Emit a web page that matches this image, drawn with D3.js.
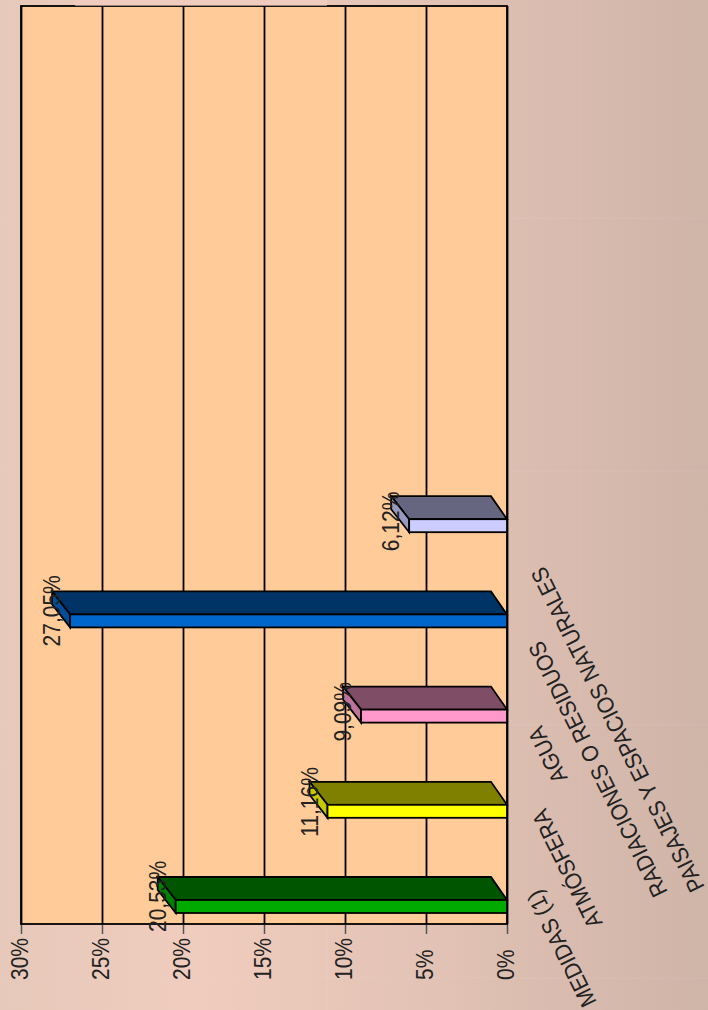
<!DOCTYPE html>
<html><head><meta charset="utf-8">
<script src="https://cdn.jsdelivr.net/npm/d3@7/dist/d3.min.js"></script>
<style>html,body{margin:0;padding:0;overflow:hidden;background:#e0c4b6}svg{display:block}text{font-family:"Liberation Sans",sans-serif;fill:#222}</style>
</head><body><svg id="c" width="708" height="1010"></svg>
<script>
const categories=["MEDIDAS (1)","ATMÓSFERA","AGUA","RADIACIONES O RESIDUOS","PAISAJES Y ESPACIOS NATURALES"];
const values=[20.53,11.16,9.09,27.05,6.12];
const valueLabels=["20,53%","11,16%","9,09%","27,05%","6,12%"];
const frontColors=["#00aa00","#ffff00","#ff99cc","#0066cc","#ccccff"];
const topColors=["#005500","#808000","#804d66","#003366","#666680"];
const sideColors=["#008000","#c8c800","#c07399","#004d99","#9999c0"];
const tickValues=[0,5,10,15,20,25,30];
const labelStart=[[597,1002],[603,923],[568,778],[668,892],[705,887]];

const svg=d3.select("#c");
const defs=svg.append("defs");
const g=defs.append("linearGradient").attr("id","bg");
[[0,"#e6c9ba"],[.28,"#f0ccbe"],[.6,"#e2c3b5"],[1,"#cfb4a8"]].forEach(s=>g.append("stop").attr("offset",s[0]).attr("stop-color",s[1]));
svg.append("rect").attr("width",708).attr("height",1010).attr("fill","url(#bg)");
[75,327,580].forEach(v=>svg.append("line").attr("x1",v).attr("x2",v).attr("y1",0).attr("y2",1010).attr("stroke","#fff").attr("stroke-opacity",.07));
[218,471,725,978].forEach(v=>svg.append("line").attr("y1",v).attr("y2",v).attr("x1",0).attr("x2",708).attr("stroke","#fff").attr("stroke-opacity",.07));

const pL=21,pR=507,pT=6,pB=924;
const xS=d3.scaleLinear().domain([0,30]).range([pR+.5,pL+.5]);
const yS=d3.scaleBand().domain(categories).range([pB,pB-95.2*5]);
const depthXBase=16,depthXEnd=18,depthY=23,barH=13,barOff=11,barNudge=.8;

svg.append("rect").attr("x",pL).attr("y",pT).attr("width",pR-pL).attr("height",pB-pT).attr("fill","#ffcc99");

const axis=d3.axisBottom(xS).tickValues(tickValues).tickSize(-(pB-pT)).tickFormat(d=>"");
const ax=svg.append("g").attr("transform",`translate(0,${pB})`).call(axis);
ax.select(".domain").remove();
ax.selectAll(".tick").attr("transform",d=>`translate(${xS(d)},0)`);
ax.selectAll("line").attr("stroke","#000").attr("stroke-width",1.8);
svg.selectAll("line.stub").data(tickValues).join("line").attr("class","stub")
 .attr("x1",d=>xS(d)).attr("x2",d=>xS(d)).attr("y1",pB).attr("y2",pB+10).attr("stroke","#555").attr("stroke-width",1.5);
svg.append("rect").attr("x",pL).attr("y",pT).attr("width",pR-pL).attr("height",pB-pT).attr("fill","none").attr("stroke","#000").attr("stroke-width",1.8);
svg.append("rect").attr("x",75).attr("y",0).attr("width",252).attr("height",5.6).attr("fill","#f0ccbe");

svg.selectAll("text.tick").data(tickValues).join("text").attr("class","tick")
 .attr("transform",d=>`translate(${xS(d)+6.5},980) rotate(-90) scale(1,1.12)`).attr("font-size",21).text(d=>d+"%");

const bars=svg.selectAll("g.bar").data(categories).join("g").attr("class","bar");
bars.each(function(c,i){
 const s=d3.select(this),xv=xS(values[i])+barNudge,b=yS(c)+yS.bandwidth()-barOff,t=b-barH;
 s.append("path").attr("d",d3.line()([[pR,t],[pR-depthXBase,t-depthY],[xv-depthXEnd,t-depthY],[xv,t]])+"Z").attr("fill",topColors[i]).attr("stroke","#000").attr("stroke-width",1.8);
 s.append("path").attr("d",d3.line()([[xv,t],[xv-depthXEnd,t-depthY],[xv-depthXEnd,b-depthY],[xv,b]])+"Z").attr("fill",sideColors[i]).attr("stroke","#000").attr("stroke-width",1.8);
 s.append("rect").attr("x",xv).attr("y",t).attr("width",pR-xv).attr("height",barH).attr("fill",frontColors[i]).attr("stroke","#000").attr("stroke-width",1.8);
 s.append("text").attr("transform",`translate(${xv-10},${b+19}) rotate(-90) scale(1,1.12)`).attr("font-size",21).text(valueLabels[i]);
});
svg.selectAll("text.cat").data(categories).join("text").attr("class","cat")
 .attr("transform",(d,i)=>`translate(${labelStart[i][0]},${labelStart[i][1]}) rotate(-116.5) scale(1,1.1)`).attr("font-size",21).text(d=>d);
</script></body></html>
